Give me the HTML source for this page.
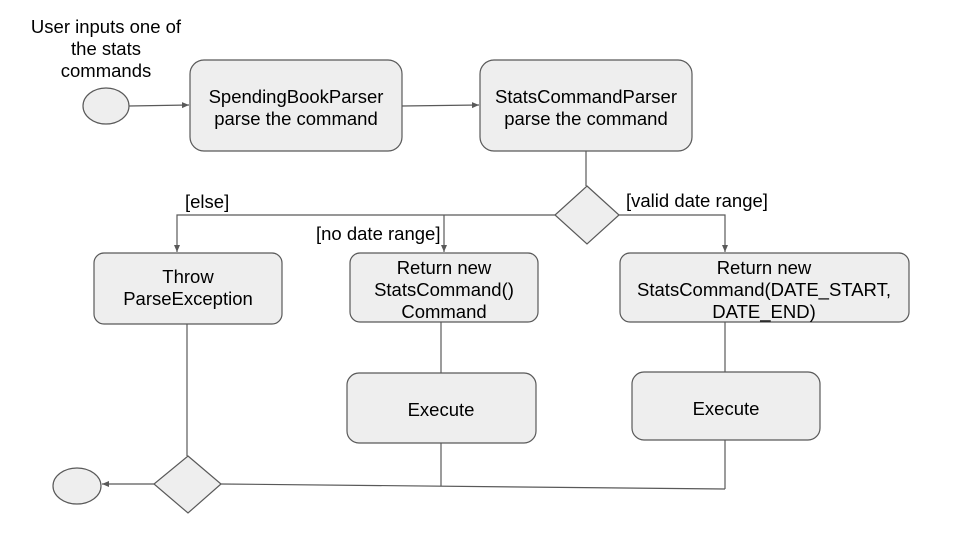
<!DOCTYPE html>
<html><head><style>body{margin:0;background:#fff}</style></head><body>
<svg width="960" height="540" xmlns="http://www.w3.org/2000/svg" font-family="Liberation Sans, Arial, sans-serif" font-size="18.5" fill="#000">
<defs><marker id="a" markerWidth="8" markerHeight="8" refX="7" refY="4" orient="auto" markerUnits="userSpaceOnUse"><path d="M0,1 L7,4 L0,7 Z" fill="#595959"/></marker></defs>
<g stroke="#595959" stroke-width="1.2" fill="none">
<line x1="129" y1="106" x2="189" y2="105" marker-end="url(#a)"/>
<line x1="402" y1="106" x2="479" y2="105" marker-end="url(#a)"/>
<line x1="586" y1="151" x2="586" y2="186"/>
<polyline points="555,215 177,215 177,252" marker-end="url(#a)"/>
<line x1="444" y1="215" x2="444" y2="252" marker-end="url(#a)"/>
<polyline points="619,215 725,215 725,252" marker-end="url(#a)"/>
<line x1="441" y1="322" x2="441" y2="373"/>
<line x1="725" y1="322" x2="725" y2="372"/>
<line x1="187" y1="324" x2="187" y2="456"/>
<line x1="441" y1="443" x2="441" y2="486"/>
<line x1="725" y1="440" x2="725" y2="489"/>
<line x1="221" y1="484" x2="725" y2="489"/>
<line x1="154" y1="484" x2="102" y2="484" marker-end="url(#a)"/>
</g>
<g fill="#eeeeee" stroke="#595959" stroke-width="1.2">
<ellipse cx="106" cy="106" rx="23" ry="18"/>
<rect x="190" y="60" width="212" height="91" rx="14"/>
<rect x="480" y="60" width="212" height="91" rx="14"/>
<polygon points="587,186 619,215 587,244 555,215"/>
<rect x="94" y="253" width="188" height="71" rx="10"/>
<rect x="350" y="253" width="188" height="69" rx="10"/>
<rect x="620" y="253" width="289" height="69" rx="10"/>
<rect x="347" y="373" width="189" height="70" rx="12"/>
<rect x="632" y="372" width="188" height="68" rx="12"/>
<polygon points="188,456 221,484 188,513 154,484"/>
<ellipse cx="77" cy="486" rx="24" ry="18"/>
</g>
<g text-anchor="middle">
<text x="106" y="33">User inputs one of</text>
<text x="106" y="55">the stats</text>
<text x="106" y="77">commands</text>
<text x="296" y="103">SpendingBookParser</text>
<text x="296" y="125">parse the command</text>
<text x="586" y="103">StatsCommandParser</text>
<text x="586" y="125">parse the command</text>
<text x="188" y="283">Throw</text>
<text x="188" y="305">ParseException</text>
<text x="444" y="274">Return new</text>
<text x="444" y="296">StatsCommand()</text>
<text x="444" y="318">Command</text>
<text x="764" y="274">Return new</text>
<text x="764" y="296">StatsCommand(DATE_START,</text>
<text x="764" y="318">DATE_END)</text>
<text x="441" y="416">Execute</text>
<text x="726" y="415">Execute</text>
</g>
<text x="185" y="208">[else]</text>
<text x="316" y="240">[no date range]</text>
<text x="626" y="207">[valid date range]</text>
</svg>
</body></html>
